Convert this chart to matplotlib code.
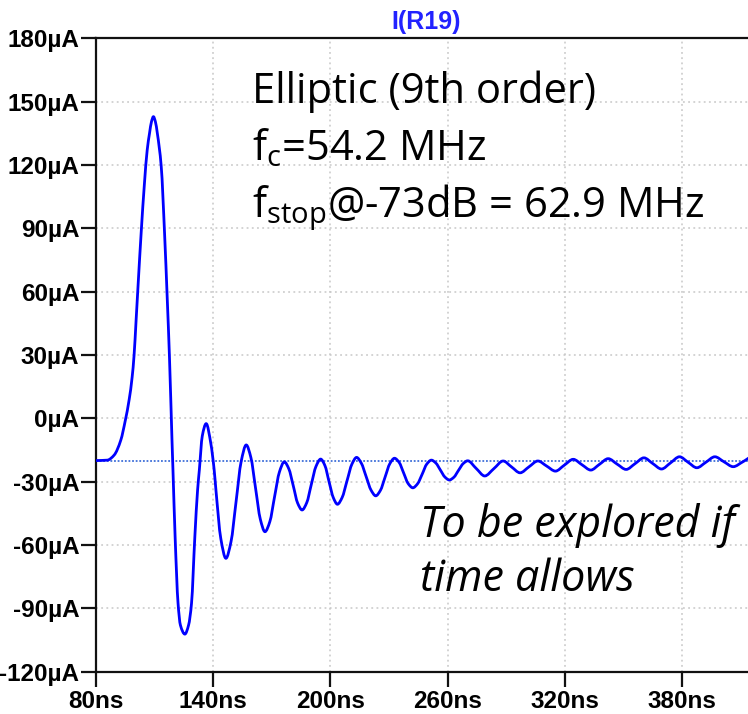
import matplotlib.pyplot as plt
from matplotlib.path import Path
from matplotlib.patches import PathPatch
import numpy as np

# waveform I(R19) (ns, uA)
time_ns = [
    80.0, 85.8, 89.3, 92.7, 95.0, 97.0, 98.5, 99.5, 100.5, 101.6, 103.1, 104.8, 106.2, 107.4, 108.4,
    109.4, 110.4, 111.4, 113.4, 115.1, 116.5, 117.6, 118.9, 119.4, 120.5, 122.0, 123.2,
    125.5, 127.4, 128.9, 130.6, 132.0, 132.9, 134.4, 136.4,
    138.8, 140.5, 141.4, 143.9, 146.5,
    149.1, 151.7, 154.3, 156.9,
    159.3, 161.7, 164.1, 166.5,
    169.0, 171.4, 173.9, 176.4,
    178.7, 181.0, 183.2, 185.5,
    187.9, 190.2, 192.6, 195.0,
    197.2, 199.3, 201.5, 203.6,
    206.0, 208.5, 211.0, 213.4,
    215.8, 218.3, 220.8, 223.2,
    225.6, 228.0, 230.4, 232.8,
    235.2, 237.5, 239.8, 242.2,
    244.6, 247.0, 249.3, 251.7,
    254.0, 256.3, 258.6, 260.9,
    263.2, 265.6, 268.0, 270.3,
    274.6, 279.0, 283.7, 288.4, 292.7, 297.1, 301.6, 306.2, 310.7, 315.2,
    319.7, 324.3, 328.8, 333.3, 337.7, 342.2, 346.8, 351.4, 355.9, 360.5,
    365.0, 369.5, 374.1, 378.7, 383.1, 387.6, 392.2, 396.8, 401.5, 406.2,
    411.1, 416.1, 417.6,
]
current_ua = [
    -20.0, -19.8, -17.4, -10.3, -1.0, 9.0, 19.5, 30.0, 46.0, 64.0, 87.6, 111.3, 127.0, 135.0, 140.5,
    142.9, 140.5, 135.0, 119.2, 87.6, 56.0, 29.2, -10.3, -24.5, -56.1, -87.6, -97.9,
    -102.2, -97.9, -87.6, -56.1, -34.0, -24.5, -8.4, -2.5,
    -12.0, -24.5, -34.0, -57.0, -66.3,
    -58.5, -39.5, -20.5, -12.6,
    -18.6, -33.2, -47.7, -53.7,
    -48.9, -37.2, -25.4, -20.6,
    -23.9, -32.0, -40.1, -43.4,
    -39.9, -31.4, -22.8, -19.3,
    -22.4, -30.0, -37.6, -40.7,
    -37.5, -29.6, -21.7, -18.5,
    -21.2, -27.6, -34.0, -36.7,
    -34.1, -27.8, -21.5, -18.9,
    -20.9, -25.9, -30.9, -32.9,
    -31.0, -26.4, -21.7, -19.8,
    -21.2, -24.5, -27.8, -29.2,
    -27.9, -24.6, -21.4, -20.1,
    -23.7, -27.3, -23.8, -20.2, -23.0, -25.8, -23.0, -20.2, -22.6, -25.0,
    -22.2, -19.4, -22.0, -24.5, -21.8, -19.1, -21.7, -24.2, -21.5, -18.7,
    -21.4, -24.0, -21.1, -18.2, -20.8, -23.4, -20.8, -18.2, -20.6, -22.9,
    -20.6, -18.2, -18.4,
]
baseline_ua = -20.0

y_ticks = list(range(-120, 181, 30))
x_ticks = list(range(80, 381, 60))


def smooth_path(x, y):
    """Bezier path through every point (monotone cubic tangents, flat at extrema)."""
    x = np.asarray(x, float)
    y = np.asarray(y, float)
    h = np.diff(x)
    delta = np.diff(y) / h
    d = np.zeros_like(y)
    d[0], d[-1] = delta[0], delta[-1]
    for k in range(1, len(y) - 1):
        if delta[k - 1] * delta[k] > 0:
            w1 = 2 * h[k] + h[k - 1]
            w2 = h[k] + 2 * h[k - 1]
            d[k] = (w1 + w2) / (w1 / delta[k - 1] + w2 / delta[k])
    verts = [(x[0], y[0])]
    codes = [Path.MOVETO]
    for k in range(len(h)):
        verts += [(x[k] + h[k] / 3, y[k] + d[k] * h[k] / 3),
                  (x[k + 1] - h[k] / 3, y[k + 1] - d[k + 1] * h[k] / 3),
                  (x[k + 1], y[k + 1])]
        codes += [Path.CURVE4] * 3
    return Path(verts, codes)


W, H = 748, 714
fig = plt.figure(figsize=(W / 100, H / 100), dpi=100)
ax = fig.add_axes([96 / W, 1 - 671.7 / H, (W - 96) / W + 0.01, (671.7 - 38.3) / H])

ax.axhline(baseline_ua, color='#3f6fd9', lw=1.3, linestyle=(0, (1, 1)), zorder=2)
ax.add_patch(PathPatch(smooth_path(time_ns, current_ua), fill=False,
                       edgecolor='#0000ff', lw=2.0, zorder=3, joinstyle='round'))

ax.set_xlim(80, 417.6)
ax.set_ylim(-120, 180)
ax.set_yticks(y_ticks)
ax.set_yticklabels([f'{v}µA' for v in y_ticks])
ax.set_xticks(x_ticks)
ax.set_xticklabels([f'{v}ns' for v in x_ticks])

ax.grid(True, color='#c8c8c8', linestyle=(0, (1.2, 2.2)), linewidth=1.1, zorder=0)
ax.set_axisbelow(True)

for side in ['left', 'top', 'bottom']:
    ax.spines[side].set_linewidth(1.6)
    ax.spines[side].set_color('#111111')
ax.spines['right'].set_visible(False)

tick_font = dict(family='Liberation Sans', weight='bold', size=17.5)
for lab in ax.get_xticklabels() + ax.get_yticklabels():
    lab.set_fontproperties(tick_font)
ax.tick_params(axis='both', direction='out', length=11, width=1.6, pad=1, color='#111111')
ax.tick_params(axis='x', pad=2)

ax.set_title('I(R19)', color='#2222ff', fontsize=18, fontweight='bold',
             family='Liberation Sans', pad=7)

plt.rcParams['mathtext.default'] = 'regular'
note = dict(family='Open Sans', size=30, color='black', va='baseline', ha='left')
ax.text(160.0, 149.5, 'Elliptic (9th order)', **note)
ax.text(160.0, 122.3, r'f$_{c}$=54.2 MHz', **note)
ax.text(160.0, 95.5, r'f$_{stop}$@-73dB = 62.9 MHz', **note)

italic = dict(family='Open Sans', style='italic', size=31, color='black',
              va='baseline', ha='left')
ax.text(246.0, -56.0, 'To be explored if', **italic)
ax.text(246.0, -82.0, 'time allows', **italic)

fig.savefig('out.png', dpi=100)
